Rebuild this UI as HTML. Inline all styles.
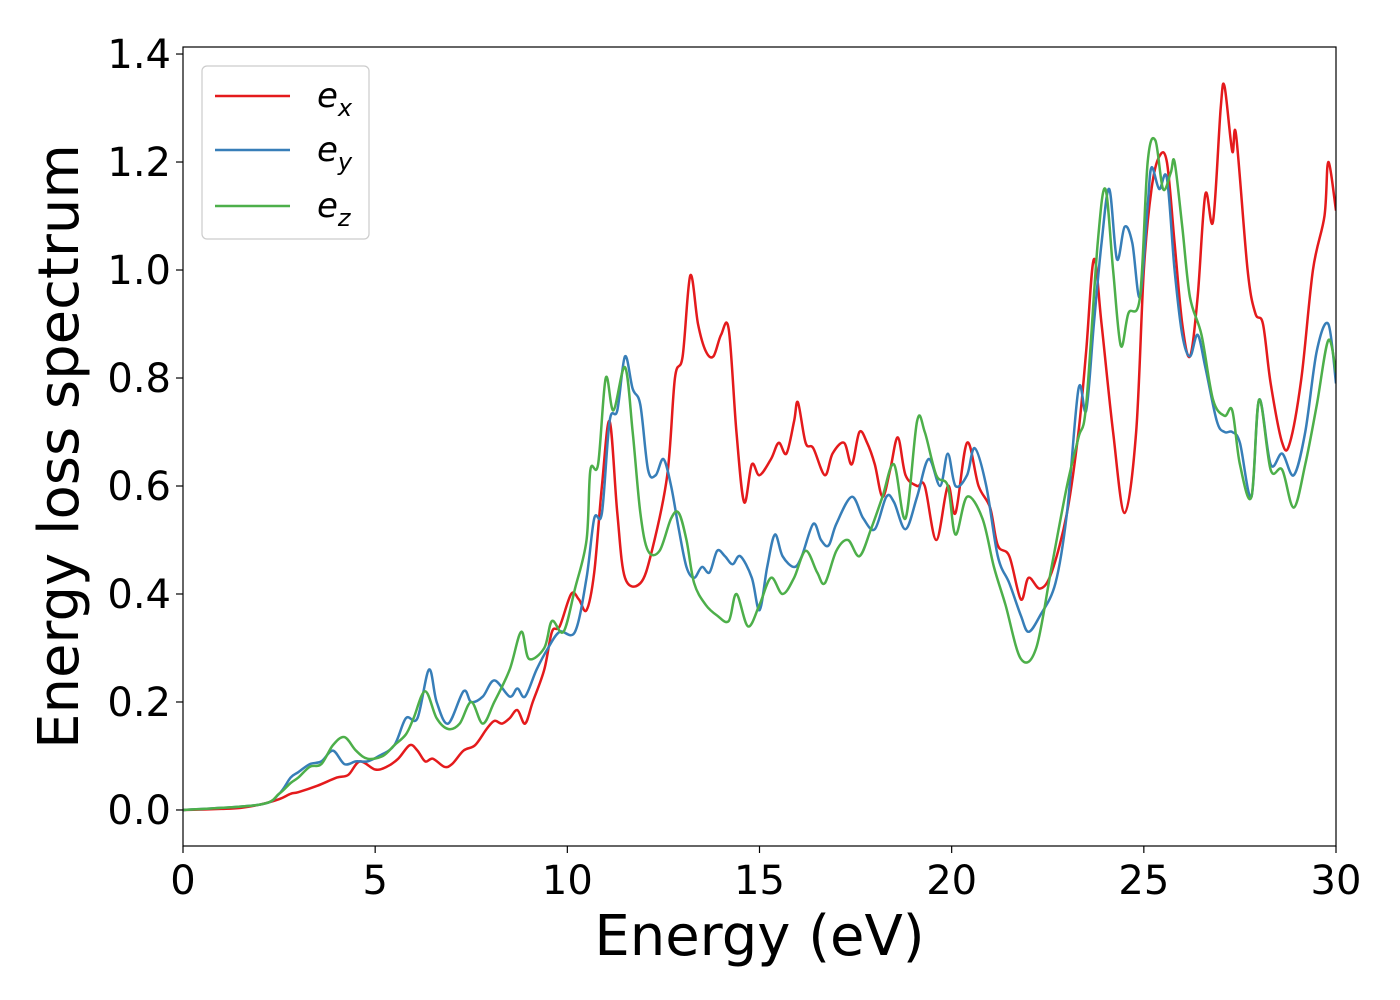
<!DOCTYPE html>
<html><head><meta charset="utf-8"><style>
html,body{margin:0;padding:0;background:#fff}
svg{display:block;font-family:"DejaVu Sans","Liberation Sans",sans-serif}
</style></head><body>
<svg id="chart" width="1400" height="1000"></svg>
<script>
const exX=[0,1,1.5,2,2.5,2.8,3,3.5,4,4.3,4.6,5,5.3,5.6,5.9,6.1,6.3,6.5,6.8,7,7.3,7.6,7.9,8.1,8.3,8.5,8.7,8.9,9.1,9.4,9.6,9.8,10.1,10.3,10.5,10.7,10.9,11.1,11.3,11.5,11.9,12.2,12.6,12.8,13,13.2,13.4,13.6,13.8,14,14.2,14.4,14.6,14.8,15,15.3,15.5,15.7,15.9,16,16.2,16.4,16.7,16.9,17.2,17.4,17.6,17.8,18,18.2,18.4,18.6,18.8,19.1,19.3,19.6,19.9,20.1,20.4,20.7,21,21.2,21.5,21.8,22,22.3,22.6,23,23.3,23.5,23.7,23.9,24.2,24.5,24.8,25,25.2,25.4,25.6,25.8,26,26.2,26.4,26.6,26.8,27,27.1,27.3,27.4,27.7,27.9,28.1,28.3,28.6,28.8,29.1,29.4,29.7,29.8,30];
const exY=[0,0.002,0.004,0.01,0.02,0.03,0.033,0.045,0.06,0.065,0.09,0.075,0.08,0.095,0.12,0.11,0.09,0.095,0.08,0.085,0.11,0.12,0.15,0.165,0.16,0.17,0.185,0.16,0.2,0.26,0.33,0.34,0.4,0.39,0.37,0.44,0.6,0.72,0.55,0.43,0.42,0.48,0.62,0.8,0.84,0.99,0.9,0.85,0.84,0.88,0.89,0.7,0.57,0.64,0.62,0.65,0.68,0.66,0.72,0.755,0.68,0.67,0.62,0.66,0.68,0.64,0.7,0.68,0.64,0.58,0.63,0.69,0.62,0.6,0.6,0.5,0.6,0.55,0.68,0.6,0.56,0.49,0.47,0.39,0.43,0.41,0.44,0.55,0.7,0.85,1.02,0.9,0.7,0.55,0.7,1.0,1.15,1.21,1.2,1.05,0.9,0.84,0.95,1.14,1.09,1.3,1.34,1.22,1.25,1.0,0.92,0.9,0.79,0.68,0.68,0.8,1.0,1.1,1.2,1.11];
const eyX=[0,2,2.5,2.8,3,3.3,3.6,3.9,4.2,4.5,4.8,5.1,5.5,5.8,6.1,6.4,6.6,6.9,7.3,7.5,7.8,8.1,8.5,8.7,8.9,9.2,9.5,9.8,10.2,10.5,10.7,10.9,11.1,11.3,11.5,11.7,11.9,12.1,12.3,12.5,12.7,12.9,13.1,13.3,13.5,13.7,13.9,14.1,14.3,14.5,14.8,15,15.2,15.4,15.6,15.9,16.1,16.4,16.6,16.8,17,17.4,17.7,18,18.3,18.5,18.8,19.1,19.4,19.7,19.9,20.1,20.4,20.6,20.9,21.2,21.5,21.8,22,22.3,22.7,23,23.3,23.5,23.7,23.9,24.1,24.3,24.5,24.7,24.9,25.1,25.2,25.4,25.6,25.8,26,26.2,26.4,26.6,26.9,27.1,27.3,27.5,27.8,28,28.3,28.6,28.9,29.2,29.5,29.8,30];
const eyY=[0,0.01,0.03,0.06,0.07,0.085,0.09,0.11,0.085,0.09,0.09,0.1,0.12,0.17,0.17,0.26,0.2,0.16,0.22,0.2,0.21,0.24,0.21,0.225,0.21,0.26,0.3,0.33,0.33,0.43,0.54,0.55,0.72,0.74,0.84,0.78,0.75,0.63,0.62,0.65,0.6,0.52,0.45,0.43,0.45,0.44,0.48,0.47,0.455,0.47,0.43,0.37,0.45,0.51,0.47,0.45,0.47,0.53,0.5,0.49,0.53,0.58,0.54,0.52,0.58,0.57,0.52,0.58,0.65,0.6,0.66,0.6,0.62,0.67,0.6,0.47,0.42,0.36,0.33,0.36,0.42,0.55,0.78,0.74,0.9,1.05,1.15,1.02,1.08,1.05,0.95,1.12,1.19,1.15,1.17,1.0,0.88,0.84,0.88,0.82,0.72,0.7,0.7,0.68,0.58,0.76,0.64,0.66,0.62,0.7,0.85,0.9,0.79];
const ezX=[0,2,2.5,2.8,3,3.3,3.6,3.9,4.2,4.5,4.8,5.2,5.5,5.8,6,6.3,6.6,6.9,7.2,7.5,7.8,8.1,8.5,8.8,9,9.4,9.6,9.9,10.2,10.5,10.6,10.8,11,11.2,11.5,11.7,11.9,12.1,12.4,12.7,12.9,13.1,13.3,13.6,13.9,14.2,14.4,14.7,15,15.3,15.6,15.9,16.2,16.5,16.7,17,17.3,17.6,17.9,18.2,18.5,18.8,19.1,19.3,19.6,19.9,20.1,20.4,20.8,21.1,21.4,21.8,22.2,22.6,23,23.3,23.5,23.8,24,24.2,24.4,24.6,24.9,25.1,25.3,25.5,25.7,25.8,26,26.2,26.5,26.8,27.1,27.3,27.5,27.8,28,28.3,28.6,28.9,29.2,29.5,29.8,30];
const ezY=[0,0.01,0.03,0.05,0.06,0.08,0.085,0.12,0.135,0.11,0.095,0.1,0.12,0.14,0.17,0.22,0.17,0.15,0.16,0.2,0.16,0.2,0.26,0.33,0.28,0.3,0.35,0.33,0.41,0.5,0.63,0.64,0.8,0.74,0.82,0.7,0.55,0.48,0.48,0.54,0.55,0.5,0.42,0.38,0.36,0.35,0.4,0.34,0.38,0.43,0.4,0.43,0.48,0.44,0.42,0.48,0.5,0.47,0.52,0.58,0.64,0.54,0.72,0.7,0.62,0.6,0.51,0.58,0.54,0.45,0.38,0.28,0.3,0.45,0.6,0.69,0.75,1.05,1.15,1.0,0.86,0.92,0.95,1.2,1.24,1.15,1.18,1.2,1.08,0.95,0.88,0.76,0.73,0.74,0.64,0.58,0.76,0.63,0.63,0.56,0.64,0.75,0.87,0.81];
const xTicks=[0,5,10,15,20,25,30];
const yTicks=[0,0.2,0.4,0.6,0.8,1.0,1.2,1.4];

const L=183,R=1336,T=47,B=846,xmin=0,xmax=30,ymin=-0.0667,ymax=1.413;
const sx=v=>L+(v-xmin)/(xmax-xmin)*(R-L);
const sy=v=>B-(v-ymin)/(ymax-ymin)*(B-T);
const svg=document.getElementById('chart');const NS='http://www.w3.org/2000/svg';
function mk(t,a,p){const e=document.createElementNS(NS,t);for(const k in a)e.setAttribute(k,a[k]);(p||svg).appendChild(e);return e;}
const clip=mk('clipPath',{id:'pc'});mk('rect',{x:L,y:T,width:R-L,height:B-T},clip);
function path(xs,ys){const p=xs.map((x,i)=>[sx(x),sy(ys[i])]);let d='M'+p[0][0]+','+p[0][1];
for(let i=0;i<p.length-1;i++){const p0=p[i-1]||p[i],p1=p[i],p2=p[i+1],p3=p[i+2]||p2;
d+=' C'+(p1[0]+(p2[0]-p0[0])/6)+','+(p1[1]+(p2[1]-p0[1])/6)+' '+(p2[0]-(p3[0]-p1[0])/6)+','+(p2[1]-(p3[1]-p1[1])/6)+' '+p2[0]+','+p2[1];}return d;}
const g=mk('g',{'clip-path':'url(#pc)'});
[[exX,exY,'#e41a1c','series-ex'],[eyX,eyY,'#377eb8','series-ey'],[ezX,ezY,'#4daf4a','series-ez']].forEach(s=>{
const e=mk('path',{d:path(s[0],s[1]),fill:'none',stroke:s[2],'stroke-width':2.5},g);

});
const fr=mk('rect',{x:L,y:T,width:R-L,height:B-T,fill:'none',stroke:'#000','stroke-width':1.2});


xTicks.forEach(v=>{mk('line',{x1:sx(v),x2:sx(v),y1:B,y2:B+7,stroke:'#000','stroke-width':1.2});
const t=mk('text',{x:sx(v),y:B+48,'font-size':40,'text-anchor':'middle'});t.textContent=v;

});
yTicks.forEach(v=>{mk('line',{x1:L-7,x2:L,y1:sy(v),y2:sy(v),stroke:'#000','stroke-width':1.2});
const t=mk('text',{x:L-12,y:sy(v)+14,'font-size':40,'text-anchor':'end'});t.textContent=v.toFixed(1);

});
const xl=mk('text',{x:(L+R)/2,y:955,'font-size':56,'text-anchor':'middle'});xl.textContent='Energy (eV)';


const yl=mk('text',{x:78,y:(T+B)/2,'font-size':56,'text-anchor':'middle',transform:'rotate(-90 78 '+((T+B)/2)+')'});yl.textContent='Energy loss spectrum';


const lg=mk('g',{});


mk('rect',{x:202,y:66,width:167,height:173,rx:5,fill:'#fff',stroke:'#ccc','stroke-width':1.2},lg);
[['#e41a1c','x',96],['#377eb8','y',150],['#4daf4a','z',206]].forEach(s=>{
mk('line',{x1:215,x2:290,y1:s[2],y2:s[2],stroke:s[0],'stroke-width':2.5},lg);
const t=mk('text',{x:317,y:s[2]+11,'font-size':34,'font-style':'italic'},lg);


t.textContent='e';const ts=mk('tspan',{dy:9,'font-size':24},t);ts.textContent=s[1];});
</script>
</body></html>
